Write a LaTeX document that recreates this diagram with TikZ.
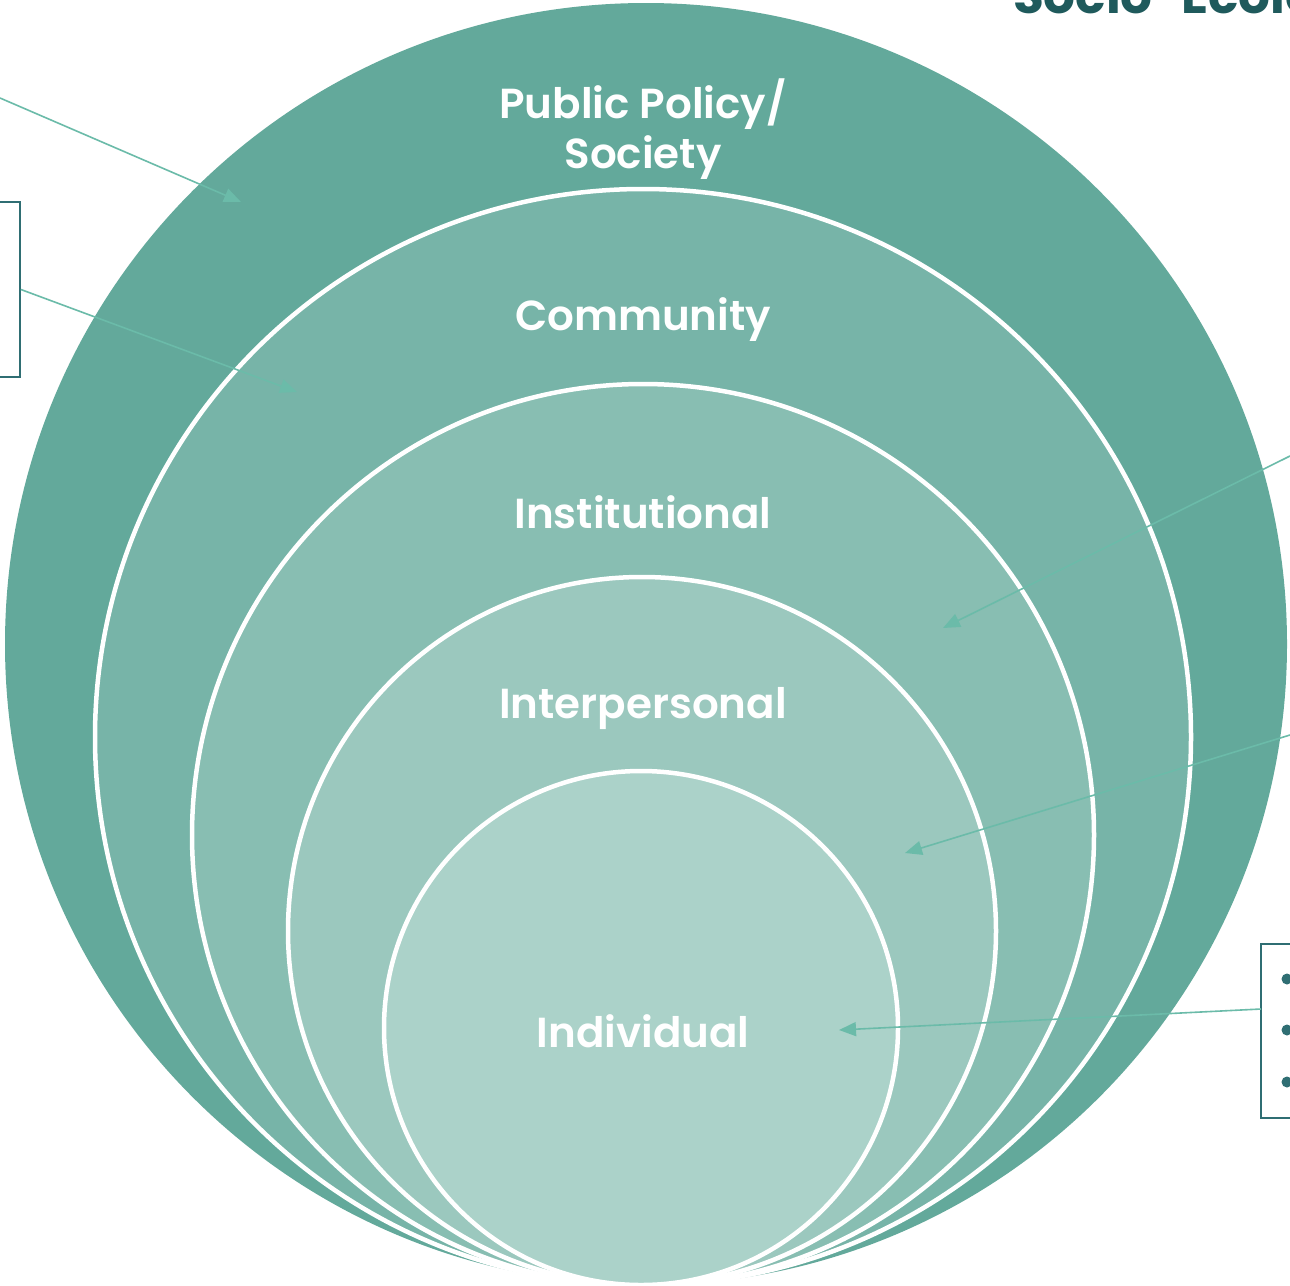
\documentclass[tikz,border=0pt]{standalone}
\usepackage{fontspec}
\setmainfont{Poppins}[BoldFont={Poppins SemiBold}]
\newfontfamily\heavyfont{Poppins}
\usetikzlibrary{arrows.meta}
\definecolor{cA}{HTML}{63A99B}
\definecolor{cB}{HTML}{77B4A8}
\definecolor{cC}{HTML}{88BEB2}
\definecolor{cD}{HTML}{9BC8BE}
\definecolor{cE}{HTML}{ABD2C9}
\definecolor{arrowc}{HTML}{6BBBA9}
\definecolor{boxc}{HTML}{2F6E73}
\definecolor{titlec}{HTML}{1F5A5C}
\begin{document}
\begin{tikzpicture}[x=1pt,y=-1pt,
  ring/.style={circle, draw=white, line width=4.5pt, inner sep=0pt},
  lbl/.style={text=white, font=\bfseries\fontsize{42}{50}\selectfont, align=center},
  conn/.style={draw=arrowc, line width=1.6pt, -{Triangle[length=17pt,width=14pt]}},
  callout/.style={draw=boxc, line width=1.8pt, fill=white, inner sep=0pt},
  bulletdot/.style={circle, fill=boxc, inner sep=0pt, minimum size=11pt}]
\useasboundingbox (0,0) rectangle (1290,1285);
\clip (0,0) rectangle (1290,1285);
\fill[white] (0,0) rectangle (1290,1285);
% rings
\node[ring, fill=cA, draw=none, minimum size=1282pt] (pp) at (646,644) {};
\node[ring, fill=cB, minimum size=1096pt] (cm) at (643,737) {};
\node[ring, fill=cC, minimum size=902pt] (in) at (643,835) {};
\node[ring, fill=cD, minimum size=708pt] (ip) at (642,931) {};
\node[ring, fill=cE, minimum size=514pt] (iv) at (641,1028) {};
% labels
\node[lbl] (tpp) at (643,129) {Public Policy/\\Society};
\node[lbl] (tcm) at (643,320) {Community};
\node[lbl] (tin) at (643,512) {Institutional};
\node[lbl] (tip) at (643,708) {Interpersonal};
\node[lbl] (tiv) at (643,1031) {Individual};
% title
\node[anchor=base west, inner sep=0pt, text=titlec, font=\heavyfont\bfseries\fontsize{50}{54}\selectfont] (title) at (1013,13) {Socio-Ecological Model};
% callout boxes
\node[callout, minimum width=60pt, minimum height=175pt] (lbox) at (-10,289.5) {};
\node[callout, minimum width=60pt, minimum height=174pt] (rbox) at (1291,1031) {};
\node[bulletdot] (b1) at (1287,979) {};
\node[bulletdot] (b2) at (1287,1030) {};
\node[bulletdot] (b3) at (1287,1082) {};
% connector ends
\coordinate (s1) at (0,98);
\coordinate (e1) at (241,202);
\coordinate (e2) at (297,392);
\coordinate (s3) at (1290,456);
\coordinate (e3) at (943,628);
\coordinate (s4) at (1290,735);
\coordinate (e4) at (905,853);
\coordinate (s5) at (1261,1009);
\coordinate (e5) at (839,1030);
\draw[conn] (s1) -- (e1);
\draw[conn] (lbox.east) -- (e2);
\draw[conn] (s3) -- (e3);
\draw[conn] (s4) -- (e4);
\draw[conn] (s5) -- (e5);
\end{tikzpicture}
\end{document}
